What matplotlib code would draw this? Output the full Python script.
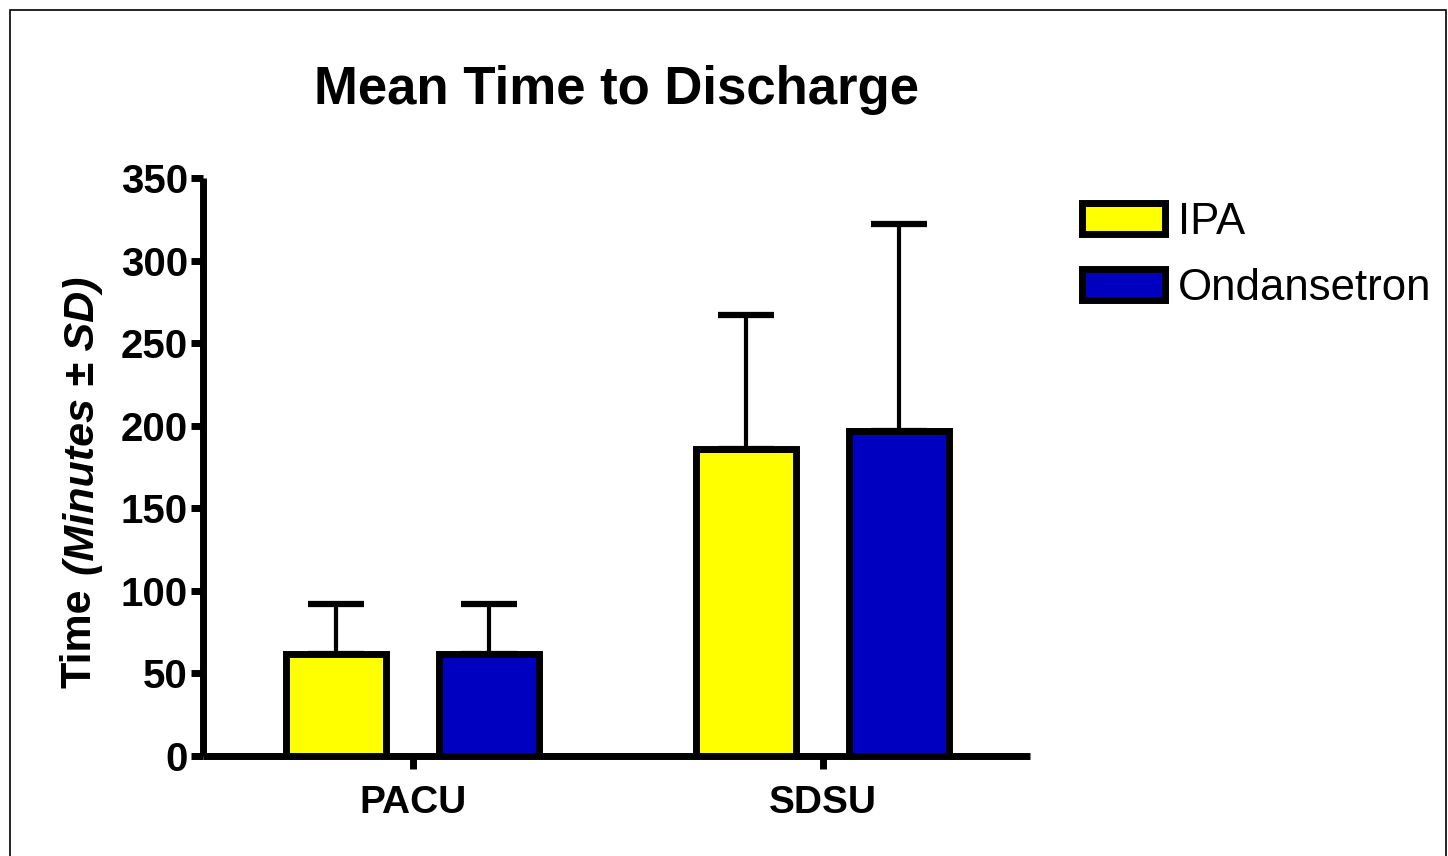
import numpy as np
import matplotlib
matplotlib.use('Agg')
import matplotlib.pyplot as plt
from matplotlib.patches import Rectangle

# datos
grupos = ['PACU', 'SDSU']
series = ['IPA', 'Ondansetron']
media_ipa = [62, 186]
sd_ipa = [30, 81]
media_ond = [62, 197]
sd_ond = [30, 125]
colores = ['#FFFF00', '#0000C0']

plt.rcParams['font.family'] = ['Liberation Sans', 'DejaVu Sans']

fig = plt.figure(figsize=(14.48, 8.56), dpi=100)
ax = fig.add_axes([0.1402, 0.1168, 0.5711, 0.6752])

x = np.arange(len(grupos))
off = 0.1866
ancho = 0.244

for medias, sds, dx, col, nom in [(media_ipa, sd_ipa, -off, colores[0], series[0]),
                                  (media_ond, sd_ond, off, colores[1], series[1])]:
    ax.bar(x + dx, medias, ancho, color=col, edgecolor='black', linewidth=5,
           label=nom, zorder=2)
    ax.errorbar(x + dx, medias, yerr=[np.zeros(len(sds)), sds], fmt='none',
                ecolor='black', elinewidth=3, capsize=20, capthick=4.5, zorder=1)

ax.set_ylim(0, 350)
ax.set_xlim(-0.512, 1.505)
ax.set_yticks(np.arange(0, 351, 50))
ax.set_xticks(x)
ax.set_xticklabels(grupos, fontsize=28, fontweight='bold')
ax.tick_params(axis='y', labelsize=29, width=5, length=9, pad=2)
ax.tick_params(axis='x', width=5, length=9, pad=12)
for l in ax.get_yticklabels():
    l.set_fontweight('bold')
for s in ['top', 'right']:
    ax.spines[s].set_visible(False)
for s in ['left', 'bottom']:
    ax.spines[s].set_linewidth(5)
    ax.spines[s].set_capstyle('butt')

fig.text(616/1448, 1 - 90/856, 'Mean Time to Discharge', fontsize=38,
         fontweight='bold', ha='center', va='center')

# etiqueta eje y en dos partes
fig.text(0.055, 0.196, 'Time', rotation=90, fontsize=31, fontweight='bold',
         ha='center', va='bottom')
fig.text(0.057, 0.328, '(Minutes \u00b1 SD)', rotation=90, fontsize=31,
         fontweight='bold', style='italic', ha='center', va='bottom')

handles = [Rectangle((0, 0), 1, 1, facecolor=c, edgecolor='black', linewidth=5)
           for c in colores]
fig.legend(handles, series, loc='upper left', bbox_to_anchor=(0.735, 0.785),
           frameon=False, fontsize=31.5, handlelength=1.9, handleheight=0.7,
           handletextpad=0.3, labelspacing=0.58, borderaxespad=0)

fig.patches.append(Rectangle((10/1448, -0.01), 1436/1448, 1 - 10/856 + 0.01,
                             transform=fig.transFigure, fill=False,
                             edgecolor='black', linewidth=1.2))

plt.savefig('out.png', dpi=100)
